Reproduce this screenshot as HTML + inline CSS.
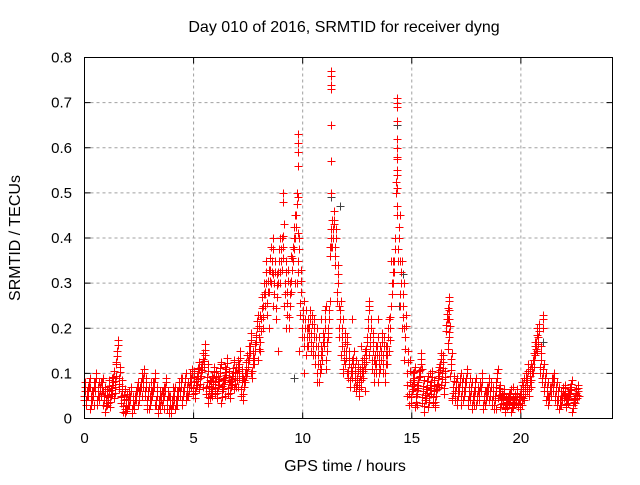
<!DOCTYPE html>
<html><head><meta charset="utf-8"><style>
body{margin:0;background:#fff}
svg text{font-family:"Liberation Sans",sans-serif;font-size:15px;fill:#000}
svg text.big{font-size:16px}
</style></head><body>
<svg id="chart" width="640" height="480" viewBox="0 0 640 480" xmlns="http://www.w3.org/2000/svg">
<rect width="640" height="480" fill="#fff"/>
<text class="big" x="344" y="32" text-anchor="middle">Day 010 of 2016, SRMTID for receiver dyng</text>
<text class="big" x="345" y="471" text-anchor="middle">GPS time / hours</text>
<text class="big" transform="translate(20,238) rotate(-90)" text-anchor="middle">SRMTID / TECUs</text>
<g id="grid"></g>
<g id="ticks"></g>
<g id="marks"></g>
<rect x="84.5" y="57.5" width="528" height="361" fill="none" stroke="#000"/>
</svg>
<script>
const xTicks=[0,5,10,15,20];
const yTicks=[0,0.1,0.2,0.3,0.4,0.5,0.6,0.7,0.8];
const yTickLabels=["0","0.1","0.2","0.3","0.4","0.5","0.6","0.7","0.8"];
const seriesA=[0.06,0.05,0.07,0.04,0.06,0.08,0.05,0.06,0.07,0.05,
0.04,0.06,0.05,0.08,0.07,0.15,0.09,0.06,0.04,0.03,
0.04,0.05,0.03,0.04,0.06,0.05,0.08,0.09,0.07,0.05,
0.04,0.06,0.08,0.05,0.03,0.04,0.05,0.07,0.04,0.03,
0.03,0.05,0.04,0.06,0.07,0.05,0.08,0.06,0.07,0.09,
0.08,0.07,0.10,0.09,0.12,0.14,0.08,0.06,0.07,0.09,
0.08,0.07,0.10,0.06,0.09,0.11,0.08,0.07,0.10,0.09,
0.10,0.12,0.08,0.07,0.11,0.13,0.16,0.12,0.15,0.20,
0.18,0.22,0.25,0.30,0.28,0.33,0.35,0.30,0.27,0.35,
0.35,0.38,0.30,0.28,0.25,0.33,0.40,0.45,0.35,0.28,
0.22,0.20,0.18,0.20,0.19,0.18,0.16,0.14,0.12,0.15,
0.20,0.15,0.22,0.40,0.42,0.38,0.30,0.22,0.18,0.15,
0.15,0.12,0.10,0.12,0.10,0.09,0.08,0.10,0.12,0.14,
0.22,0.18,0.15,0.12,0.14,0.12,0.15,0.14,0.12,0.18,
0.20,0.30,0.35,0.55,0.40,0.30,0.25,0.18,0.10,0.08,
0.06,0.09,0.05,0.08,0.12,0.06,0.04,0.07,0.05,0.08,
0.06,0.05,0.09,0.12,0.10,0.08,0.22,0.18,0.12,0.07,
0.06,0.05,0.08,0.07,0.06,0.09,0.05,0.06,0.04,0.07,
0.05,0.06,0.08,0.04,0.05,0.07,0.06,0.05,0.04,0.09,
0.06,0.04,0.05,0.03,0.04,0.05,0.03,0.04,0.05,0.04,
0.05,0.06,0.07,0.09,0.08,0.10,0.13,0.17,0.18,0.13,
0.10,0.08,0.06,0.05,0.07,0.08,0.06,0.05,0.04,0.05,
0.06,0.04,0.05,0.07,0.03,0.05,0.06];
const seriesB=[0.04,0.07,0.03,0.08,0.06,0.03,0.09,0.12,0.05,0.02,
0.06,0.03,0.07,0.05,0.02,0.08,0.03,0.06,0.02,0.05,
0.07,0.03,0.09,0.05,0.10,0.06,0.11,0.07,0.12,0.05,
0.06,0.12,0.05,0.08,0.13,0.07,0.09,0.14,0.10,0.18,
0.15,0.28,0.20,0.32,0.15,0.40,0.20,0.36,0.30,0.15,
0.10,0.20,0.14,0.08,0.22,0.25,0.38,0.43,0.25,0.10,
0.10,0.22,0.07,0.16,0.06,0.25,0.13,0.22,0.18,0.12,
0.35,0.40,0.35,0.20,0.03,0.10,0.03,0.11,0.04,0.10,
0.03,0.07,0.14,0.22,0.04,0.09,0.03,0.06,0.09,0.03,
0.07,0.03,0.06,0.08,0.02,0.06,0.02,0.05,0.07,0.03,
0.04,0.09,0.12,0.17,0.21,0.12,0.05,0.09,0.04,0.06,
0.03,0.07,0.04,0.05];
// isolated spike points (time, value)
const spikeTimes=[9.1,9.1,9.8,9.8,9.8,9.8,9.8,9.8,11.3,11.3,11.3,11.3,11.3,11.3,11.3,14.3,14.3,14.3,14.3,14.3,14.3,14.3,14.3,14.3,14.3,16.7,16.7,16.7,16.7,21.0,21.0,21.0];
const spikeValues=[0.50,0.48,0.63,0.61,0.59,0.56,0.49,0.41,0.77,0.76,0.74,0.73,0.65,0.57,0.50,0.71,0.70,0.69,0.66,0.62,0.58,0.54,0.51,0.47,0.45,0.27,0.26,0.24,0.22,0.23,0.22,0.20];
// per-hour scatter half-width of the point cloud (TECU)
const spreadPerHour=[0.02,0.025,0.02,0.02,0.02,0.025,0.025,0.03,0.05,0.05,0.04,0.04,0.03,0.04,0.05,0.025,0.025,0.02,0.02,0.015,0.03,0.02,0.015];
const grayTimes=[9.6,10.3,11.3,11.3,11.7,13.5,14.3,14.4,14.6,16.7,21.0];
const grayValues=[0.09,0.18,0.57,0.49,0.47,0.13,0.65,0.25,0.32,0.27,0.17];
const X0=84.5,X1=612.5,XMAX=24.2,Y0=418.5,Y1=57.5,YMAX=0.8;
function sx(t){return X0+(X1-X0)*t/XMAX;}
function sy(v){return Y0-(Y0-Y1)*v/YMAX;}
const NS="http://www.w3.org/2000/svg";
const grid=document.getElementById('grid'),ticks=document.getElementById('ticks'),marks=document.getElementById('marks');
function mk(tag,attrs,parent){const e=document.createElementNS(NS,tag);for(const k in attrs)e.setAttribute(k,attrs[k]);parent.appendChild(e);return e;}
xTicks.forEach(t=>{
  const x=sx(t);
  if(t>0){const g=mk('line',{x1:x,y1:Y0,x2:x,y2:Y1,stroke:'#a0a0a0','stroke-dasharray':'3,3'},grid);
  
  }
  const tx=mk('text',{x:x,y:443,'text-anchor':'middle'},ticks);tx.textContent=t;
  
  
  mk('line',{x1:x,y1:Y0,x2:x,y2:Y0-6,stroke:'#000'},ticks);
  mk('line',{x1:x,y1:Y1,x2:x,y2:Y1+6,stroke:'#000'},ticks);
});
yTicks.forEach((v,i)=>{
  const y=sy(v);
  if(v>0&&v<YMAX){const g=mk('line',{x1:X0,y1:y,x2:X1,y2:y,stroke:'#a0a0a0','stroke-dasharray':'3,3'},grid);
  
  }
  const tx=mk('text',{x:72,y:y+5,'text-anchor':'end'},ticks);tx.textContent=yTickLabels[i];
  
  
  mk('line',{x1:X0,y1:y,x2:X0+6,y2:y,stroke:'#000'},ticks);
  mk('line',{x1:X1,y1:y,x2:X1-6,y2:y,stroke:'#000'},ticks);
});
function plus(t,v,color,name){
  const x=Math.round(sx(t))+0.5,y=Math.round(sy(v))+0.5;
  const p=mk('path',{d:`M${x-4} ${y}H${x+4}M${x} ${y-4}V${y+4}`,stroke:color,'stroke-width':1,fill:'none'},marks);
  
  
}
grayTimes.forEach((t,i)=>plus(t,grayValues[i],'#404040','gray-point'));
seriesA.forEach((v,i)=>{
  const t=i*0.1;
  const s=spreadPerHour[Math.min(spreadPerHour.length-1,Math.floor(t))];
  [-2,-1,0,1,2].forEach(k=>{
    const vv=Math.max(0.012,v+k*s/2);
    plus(t+k*0.02,vv,'#ff0000','red-point');
  });
});
seriesB.forEach((v,i)=>plus(i*0.2+0.05,v,'#ff0000','red-point'));
spikeTimes.forEach((t,i)=>plus(t,spikeValues[i],'#ff0000','spike-point'));
</script>
</body></html>
